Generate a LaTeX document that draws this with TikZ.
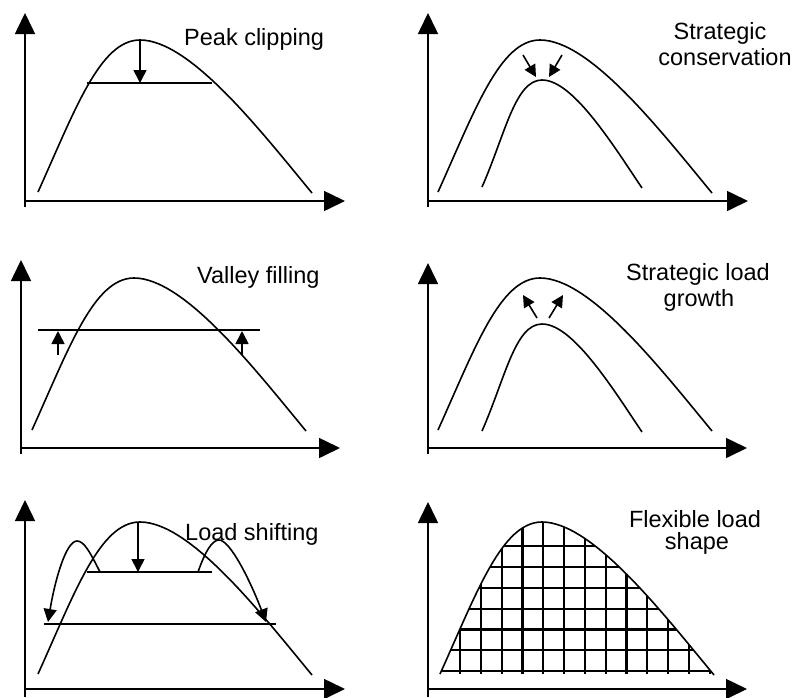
\documentclass[tikz,border=0pt]{standalone}
\usepackage{fontspec}
\setmainfont{Liberation Sans}
\usepackage{tikz}
\usetikzlibrary{arrows.meta}

\newcommand{\loadcurve}{(38,192) .. controls (75,110) and (100,40) .. (140,40) .. controls (190,40) and (260,130) .. (312,193)}
\newcommand{\innercurve}{(482,187) .. controls (505,135) and (515,80) .. (542,80) .. controls (572,80) and (610,140) .. (642,188)}

\begin{document}
\begin{tikzpicture}[x=1pt,y=-1pt]
  \tikzstyle{axis}=[line width=1.6pt,-{Triangle[length=21pt,width=20pt]}]
  \tikzstyle{curve}=[line width=1.6pt]
  \tikzstyle{arr}=[line width=1.6pt,-{Triangle[length=13pt,width=13pt]}]
  \tikzstyle{smallarr}=[line width=1.6pt,-{Triangle[length=12pt,width=12pt]}]
  \tikzstyle{gridline}=[line width=2.2pt]
  \tikzstyle{lbl}=[font=\fontsize{23.5}{26}\selectfont,inner sep=0pt]
  \useasboundingbox (0,0) rectangle (793,697);

  \draw[axis] (25,207) -- (25,13);
  \draw[axis] (25,201) -- (345,201);
  \draw[curve] \loadcurve;
  \draw[curve] (87,83) -- (212,83);
  \draw[arr] (140,40) -- (140,83);
  \node[lbl,anchor=base west] (peak) at (184,45) {Peak clipping};

  \draw[axis] (428,207) -- (428,13);
  \draw[axis] (428,201) -- (748,201);
  \draw[curve,shift={(400,0)}] \loadcurve;
  \draw[curve] \innercurve;
  \draw[smallarr] (523,55) -- (536,77);
  \draw[smallarr] (562,55) -- (549,77);
  \node[lbl,anchor=base] (cons1) at (720,39) {Strategic};
  \node[lbl,anchor=base] (cons2) at (725,65) {conservation};

  \draw[axis] (21,454) -- (21,260);
  \draw[axis] (21,448) -- (340,448);
  \draw[curve,shift={(-6,238)}] \loadcurve;
  \draw[curve] (38,330) -- (260,330);
  \draw[arr] (58,355) -- (58,331);
  \draw[arr] (242,355) -- (242,331);
  \node[lbl,anchor=base west] (valley) at (197,283) {Valley filling};

  \draw[axis] (428,454) -- (428,263);
  \draw[axis] (428,448) -- (747,448);
  \draw[curve,shift={(400,238)}] \loadcurve;
  \draw[curve,shift={(0,244)}] \innercurve;
  \draw[smallarr] (537,318) -- (523,295);
  \draw[smallarr] (549,318) -- (563,295);
  \node[lbl,anchor=base] (growth1) at (698,280) {Strategic load};
  \node[lbl,anchor=base] (growth2) at (699,306) {growth};

  \draw[axis] (25,697) -- (25,500);
  \draw[axis] (25,689) -- (345,689);
  \draw[curve,shift={(0,482)}] \loadcurve;
  \draw[curve] (87,572) -- (212,572);
  \draw[curve] (44,624) -- (276,624);
  \draw[arr] (138,522) -- (138,572);
  \draw[arr] (100,572) .. controls (90,552) and (84,541) .. (77,541) .. controls (66,541) and (55,580) .. (48,622);
  \draw[arr] (198,572) .. controls (205,552) and (212,540) .. (219,540) .. controls (230,540) and (250,580) .. (266,622);
  \node[lbl,anchor=base west] (shift) at (185,540) {Load shifting};

  \draw[axis] (428,697) -- (428,502);
  \draw[axis] (428,689) -- (747,689);
  \begin{scope}
    \clip[shift={(402,482)}] \loadcurve -- cycle;
    \foreach \i in {0,...,12}
      \draw[gridline] ({460+20.8*\i},674) -- ++(0,-160);
    \foreach \j in {0,...,6}
      \draw[gridline] (430,{671-20.8*\j}) -- ++(300,0);
  \end{scope}
  \draw[curve,shift={(402,482)}] \loadcurve;
  \node[lbl,anchor=base] (flex1) at (695,527) {Flexible load};
  \node[lbl,anchor=base] (flex2) at (697,549) {shape};
\end{tikzpicture}
\end{document}
